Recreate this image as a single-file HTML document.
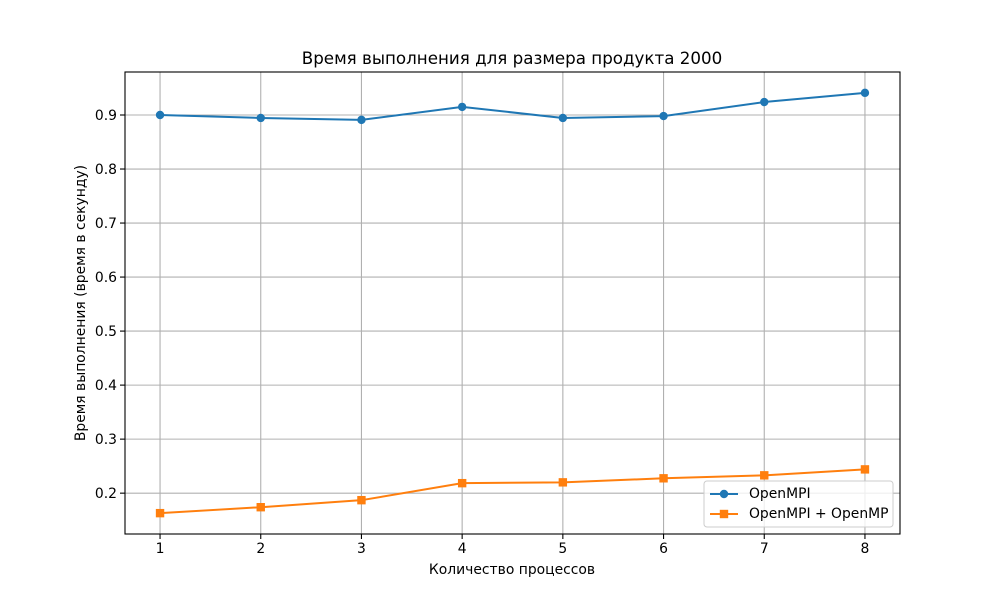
<!DOCTYPE html>
<html><head><meta charset="utf-8"><style>
body{margin:0;background:#fff}
svg text{font-family:"DejaVu Sans","Liberation Sans",sans-serif;fill:#000}
</style></head><body>
<svg id="chart" width="1000" height="600" xmlns="http://www.w3.org/2000/svg">
<rect width="1000" height="600" fill="#fff"/>
<g id="grid"></g>
<g id="series"></g>
<rect x="125" y="72" width="775" height="462" fill="none" stroke="#000" stroke-width="1.1"/>
<g id="ticks"></g>
<text x="512" y="64" font-size="16.7" text-anchor="middle">Время выполнения для размера продукта 2000</text>
<text x="512" y="574" font-size="13.9" text-anchor="middle">Количество процессов</text>
<text transform="translate(85,303) rotate(-90)" font-size="13.9" text-anchor="middle">Время выполнения (время в секунду)</text>
<g>
<rect x="704" y="481" width="189" height="46" rx="3" fill="#fff" fill-opacity="0.8" stroke="#ccc"/>
<g>
<line x1="710" y1="494" x2="738" y2="494" stroke="#1f77b4" stroke-width="2"/>
<circle cx="724" cy="494" r="4.2" fill="#1f77b4"/>
<text x="749" y="498" font-size="13.9">OpenMPI</text></g>
<g>
<line x1="710" y1="514" x2="738" y2="514" stroke="#ff7f0e" stroke-width="2"/>
<rect x="719.8" y="509.8" width="8.4" height="8.4" fill="#ff7f0e"/>
<text x="749" y="518" font-size="13.9">OpenMPI + OpenMP</text></g>
</g>
</svg>
<script>
const categories=[1,2,3,4,5,6,7,8];
const openmpi=[0.900,0.8945,0.891,0.915,0.8945,0.898,0.924,0.941];
const hybrid=[0.163,0.174,0.187,0.2185,0.220,0.2275,0.233,0.244];
const yTicks=[0.2,0.3,0.4,0.5,0.6,0.7,0.8,0.9];
const yTickLabels=["0.2","0.3","0.4","0.5","0.6","0.7","0.8","0.9"];
const NS="http://www.w3.org/2000/svg";
const X0=125,X1=900,Y0=534,Y1=72,xmin=0.652,xmax=8.348,ymin=0.1244,ymax=0.9796;
const xs=v=>X0+(v-xmin)/(xmax-xmin)*(X1-X0);
const ys=v=>Y0-(v-ymin)/(ymax-ymin)*(Y0-Y1);
function mk(t,a,p){const e=document.createElementNS(NS,t);for(const k in a)e.setAttribute(k,a[k]);p.appendChild(e);return e;}
const grid=document.getElementById('grid'),ticks=document.getElementById('ticks'),ser=document.getElementById('series');
categories.forEach(c=>{const x=xs(c);
const g=mk('line',{x1:x,x2:x,y1:Y1,y2:Y0,stroke:'#b0b0b0','stroke-width':1.1},grid);


mk('line',{x1:x,x2:x,y1:Y0,y2:Y0+5,stroke:'#000','stroke-width':1.1},ticks);
const t=mk('text',{x:x,y:Y0+19,'font-size':13.9,'text-anchor':'middle'},ticks);t.textContent=c;

});
yTicks.forEach((v,i)=>{const y=ys(v);
const g=mk('line',{x1:X0,x2:X1,y1:y,y2:y,stroke:'#b0b0b0','stroke-width':1.1},grid);


mk('line',{x1:X0-5,x2:X0,y1:y,y2:y,stroke:'#000','stroke-width':1.1},ticks);
const t=mk('text',{x:X0-8,y:y+5,'font-size':13.9,'text-anchor':'end'},ticks);t.textContent=yTickLabels[i];

});
function draw(vals,color,sq,name){
const pts=vals.map((v,i)=>xs(categories[i])+','+ys(v)).join(' ');
const l=mk('polyline',{points:pts,fill:'none',stroke:color,'stroke-width':2},ser);


vals.forEach((v,i)=>{const x=xs(categories[i]),y=ys(v);let m;
if(sq)m=mk('rect',{x:x-4.2,y:y-4.2,width:8.4,height:8.4,fill:color},ser);
else m=mk('circle',{cx:x,cy:y,r:4.2,fill:color},ser);

});}
draw(openmpi,'#1f77b4',false,'openmpi');
draw(hybrid,'#ff7f0e',true,'hybrid');
</script>
</body></html>
